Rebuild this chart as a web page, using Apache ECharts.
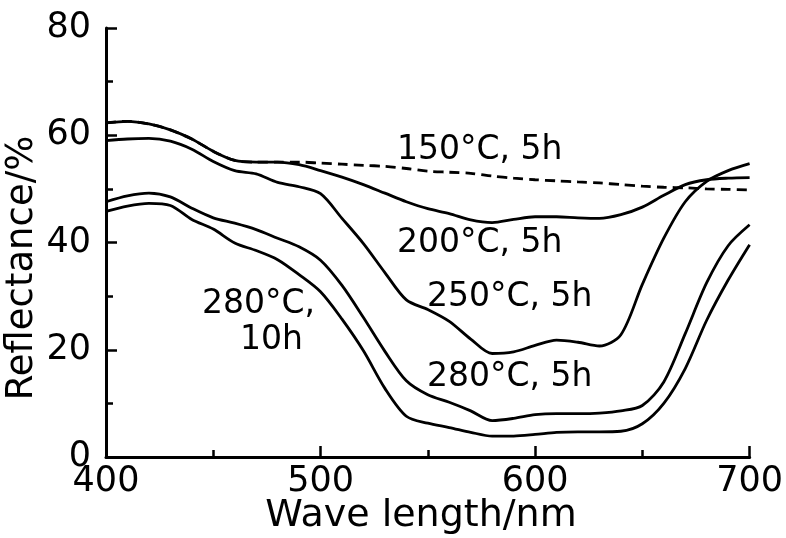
<!DOCTYPE html>
<html>
<head>
<meta charset="utf-8">
<script src="https://cdn.jsdelivr.net/npm/echarts@6/dist/echarts.min.js"></script>
<style>html,body{margin:0;padding:0;background:#fff;}#c{width:786px;height:538px;}</style>
</head>
<body>
<div id="c"></div>
<script>
// wavelength grid (nm)
const wavelengths = [400,410,420,430,440,450,460,470,480,490,500,510,520,530,540,550,560,570,580,590,600,610,620,630,640,650,660,670,680,690,700];
// reflectance (%) per treatment
const r150_5h  = [62.3,62.6,62.1,61.0,59.3,57.0,55.3,55.0,55.0,55.0,54.8,54.6,54.4,54.2,53.8,53.3,53.1,52.9,52.4,52.0,51.7,51.5,51.3,51.1,50.8,50.5,50.3,50.2,50.0,49.9,49.8];
const r200_5h  = [62.3,62.6,62.1,61.0,59.3,57.0,55.3,55.0,55.0,54.5,53.4,52.2,50.8,49.2,47.6,46.3,45.4,44.2,43.7,44.3,44.8,44.8,44.6,44.5,45.2,46.6,48.8,50.8,51.7,52.0,52.1];
const r250_5h  = [59.0,59.3,59.4,58.9,57.4,55.1,53.4,52.8,51.2,50.4,49.1,44.5,39.8,34.4,29.3,27.5,25.3,22.0,19.3,19.6,20.8,21.8,21.4,20.7,22.8,32.2,40.8,47.6,51.4,53.4,54.7];
const r280_5h  = [47.6,48.7,49.2,48.5,46.4,44.6,43.6,42.4,40.8,39.2,36.7,32.0,26.0,19.7,14.2,11.6,10.2,8.6,6.8,7.2,7.9,8.1,8.1,8.2,8.6,9.6,14.0,23.0,32.5,39.4,43.3];
const r280_10h = [45.8,46.8,47.3,46.9,44.3,42.5,39.9,38.5,36.8,34.0,30.8,25.7,19.8,12.8,7.6,6.3,5.5,4.6,3.9,3.9,4.2,4.6,4.7,4.7,4.8,6.2,10.0,16.5,25.5,33.0,39.6];
// axis ticks
const xTicks = {min:400, max:700, interval:100};
const yTicks = {min:0, max:80, interval:20};
// curve labels
const labels = [
  {text:'150°C, 5h', x:397, y:150},
  {text:'200°C, 5h', x:397, y:243},
  {text:'250°C, 5h', x:427, y:297},
  {text:'280°C, 5h', x:427, y:377},
  {text:'280°C,',    x:202, y:304},
  {text:'10h',       x:240, y:340}
];

const FONT = 'DejaVu Sans';
const pairs = arr => wavelengths.map((w,i)=>[w,arr[i]]);
const lineSeries = (name, arr, dashed) => ({
  name, type:'line', data:pairs(arr), smooth:0.3, showSymbol:false, symbol:'none',
  lineStyle:{color:'#000', width:2.8, type: dashed ? [10,6] : 'solid'},
  z: dashed ? 1 : 2, silent:true
});

const chart = echarts.init(document.getElementById('c'), null, {renderer:'canvas'});
chart.setOption({
  backgroundColor:'#fff',
  animation:false,
  grid:{left:106, right:36, top:28, bottom:81, containLabel:false},
  xAxis:{
    type:'value', min:xTicks.min, max:xTicks.max, interval:xTicks.interval,
    axisLine:{show:true, lineStyle:{color:'#000', width:3}},
    axisTick:{show:true, inside:true, length:11, lineStyle:{color:'#000', width:2.5}},
    minorTick:{show:true, splitNumber:2, length:7, lineStyle:{color:'#000', width:2.5}},
    splitLine:{show:false},
    axisLabel:{color:'#000', fontFamily:FONT, fontSize:35, margin:7}
  },
  yAxis:{
    type:'value', min:yTicks.min, max:yTicks.max, interval:yTicks.interval,
    axisLine:{show:true, lineStyle:{color:'#000', width:3}},
    axisTick:{show:true, inside:true, length:11, lineStyle:{color:'#000', width:2.5}},
    minorTick:{show:true, splitNumber:2, length:7, lineStyle:{color:'#000', width:2.5}},
    splitLine:{show:false},
    axisLabel:{color:'#000', fontFamily:FONT, fontSize:35, margin:15}
  },
  series:[
    lineSeries('150°C, 5h', r150_5h, true),
    lineSeries('200°C, 5h', r200_5h, false),
    lineSeries('250°C, 5h', r250_5h, false),
    lineSeries('280°C, 5h', r280_5h, false),
    lineSeries('280°C, 10h', r280_10h, false)
  ],
  graphic:[
    ...labels.map(l=>({type:'text', x:l.x, y:l.y, silent:true,
      style:{text:l.text, fill:'#000', font:'33px "'+FONT+'"', textAlign:'left', textVerticalAlign:'middle'}})),
    {type:'text', x:421, y:516, silent:true,
      style:{text:'Wave length/nm', fill:'#000', font:'38px "'+FONT+'"', textAlign:'center', textVerticalAlign:'middle'}},
    {type:'text', x:22, y:268, rotation:Math.PI/2, silent:true,
      style:{text:'Reflectance/%', fill:'#000', font:'37px "'+FONT+'"', textAlign:'center', textVerticalAlign:'middle'}}
  ]
});
</script>
</body>
</html>
